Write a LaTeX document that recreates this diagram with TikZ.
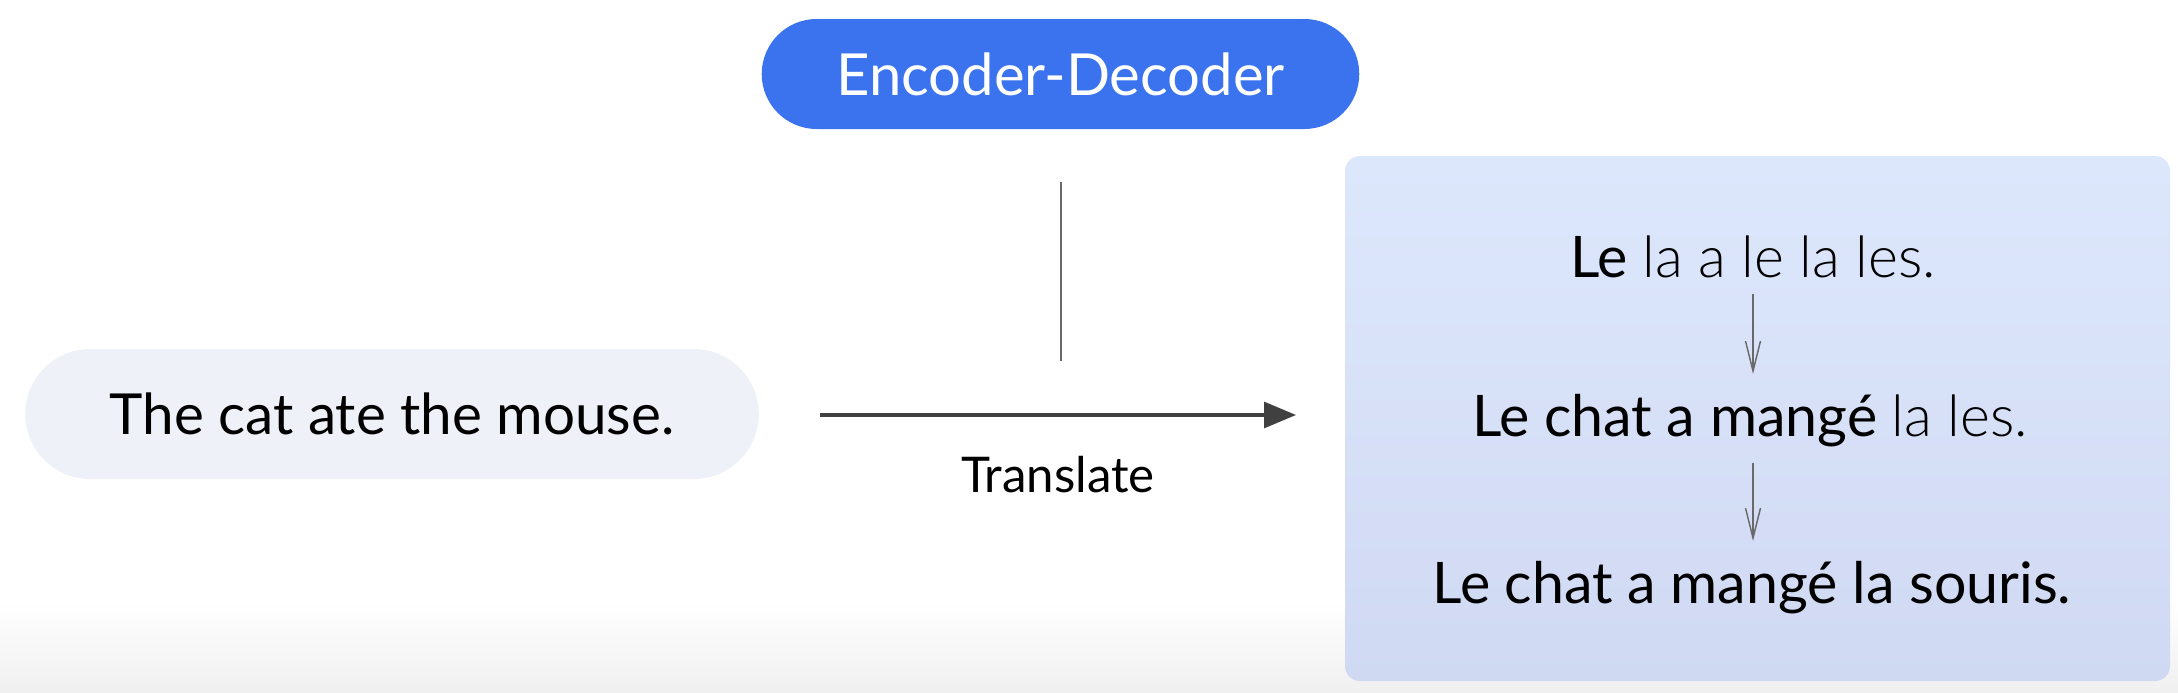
\documentclass[tikz,border=0pt]{standalone}
\usepackage{fontspec}
\setmainfont{Lato}
\newfontfamily\lightfont{Lato Light}
\usetikzlibrary{calc,arrows.meta,shapes.misc}
\definecolor{encblue}{RGB}{59,114,238}
\definecolor{pillgray}{RGB}{239,241,248}
\definecolor{boxtop}{RGB}{221,231,252}
\definecolor{boxbot}{RGB}{208,217,242}
\definecolor{wiregray}{RGB}{105,105,105}
\tikzstyle{model}=[rounded rectangle, fill=encblue, text=white, minimum width=6.21cm, minimum height=1.10cm, font=\fontsize{16.5}{19}\selectfont]
\tikzstyle{source}=[rounded rectangle, fill=pillgray, minimum width=7.57cm, minimum height=1.30cm, font=\fontsize{16.1}{19}\selectfont]
\tikzstyle{outbox}=[rectangle, rounded corners=0.15cm, top color=boxtop, bottom color=boxbot, minimum width=8.25cm, minimum height=5.25cm]
\tikzstyle{sentence}=[inner sep=0pt, font=\fontsize{16.3}{19}\selectfont]
\tikzstyle{refine}=[draw=wiregray, line width=0.4pt, -{Straight Barb[length=3mm,width=1.5mm]}]

\begin{document}
\begin{tikzpicture}
\useasboundingbox (0,0) rectangle (21.78,6.92);
\shade[top color=white, bottom color=black!6] (0,0) rectangle (21.78,0.9);
\node[model] (M) at (10.605,6.18) {Encoder-Decoder};
\node[source] (S) at (3.92,2.78) {The cat ate the mouse.};
\node[outbox] (O) at (17.575,2.735) {};
\node[sentence] (L1) at (17.53,4.35) {Le {\lightfont la a le la les.}};
\node[sentence] (L2) at (17.50,2.71) {Le chat a mangé {\lightfont la les.}};
\node[sentence] (L3) at (17.52,1.04) {Le chat a mangé la souris.};
\coordinate (T1) at (10.61,5.10);
\coordinate (T2) at (10.61,3.31);
\coordinate (A1) at (8.20,2.77);
\coordinate (A2) at (12.96,2.77);
\draw[wiregray, line width=0.5pt] (T1) -- (T2);
\draw[black!75, line width=0.9pt, -{Triangle[length=3.2mm,width=2.6mm]}] (A1) -- node[below=0.28cm, font=\fontsize{14}{17}\selectfont, text=black] {Translate} (A2);
\draw[refine] ($(L1.south)+(0,-0.15)$) -- ($(L1.south |- L2.north)+(0,0.2)$);
\draw[refine] ($(L1.south |- L2.south)+(0,-0.15)$) -- ($(L1.south |- L3.north)+(0,0.2)$);
\end{tikzpicture}
\end{document}
